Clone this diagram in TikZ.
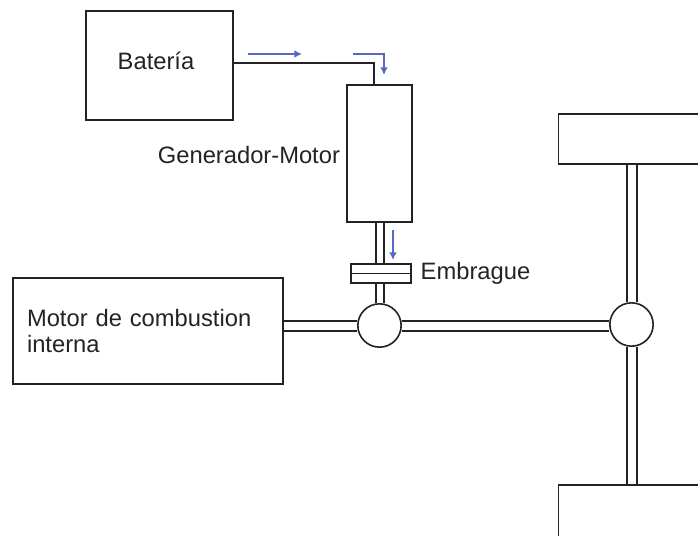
\documentclass[tikz,border=0pt]{standalone}
\usepackage{fontspec}
\setmainfont{Liberation Sans}
\usetikzlibrary{arrows.meta,positioning}
\definecolor{flowcolor}{RGB}{85,105,195}
\definecolor{linecolor}{RGB}{35,35,35}
\tikzset{
  blockbox/.style={draw=linecolor,fill=white,line width=1.2pt,inner sep=0pt},
  hubnode/.style={circle,draw=linecolor,fill=white,line width=1.2pt,minimum size=32.5pt,inner sep=0pt},
  shaftline/.style={draw=linecolor,line width=1.5pt,double=white,double distance=6pt},
  thinshaft/.style={draw=linecolor,line width=1.5pt,double=white,double distance=4.5pt},
  wireline/.style={draw=linecolor,line width=1.2pt},
  flowarrow/.style={-{Latex[length=2mm,width=2mm]},line width=0.9pt,draw=flowcolor},
  textlabel/.style={font=\fontsize{17.8pt}{20pt}\selectfont,text=linecolor,inner sep=0pt},
}

\begin{document}
\begin{tikzpicture}[x=0.75pt,y=-0.75pt]
        \clip (0,0) rectangle (698,535);
        \node[blockbox,minimum width=110.25pt,minimum height=81.75pt] (bateria) at (159.5,65.5) {};
        \node[textlabel] (lblbateria) at (156,61) {Batería};
        \node[blockbox,minimum width=48.75pt,minimum height=102.75pt] (generador) at (379.5,153.5) {};
        \node[textlabel,left=4.5pt of generador,yshift=-1pt] (lblgenerador) {Generador-Motor};
        \node[blockbox,minimum width=45pt,minimum height=14.25pt] (embrague) at (381,273.5) {};
        \node[textlabel,right=6.5pt of embrague] (lblembrague) {Embrague};
        \node[blockbox,textlabel,align=left,minimum width=202.5pt,minimum height=79.5pt,
          text width=181.5pt,inner xsep=10.5pt] (motor) at (148,331) {Motor de combustion\\interna};
        \node[blockbox,minimum width=109.5pt,minimum height=37.5pt] (ruedasup) at (631.5,139) {};
        \node[blockbox,minimum width=109.5pt,minimum height=42pt] (ruedainf) at (631.5,513) {};
        \node[hubnode] (hubmotor) at (379.5,325.5) {};
        \node[hubnode] (hubeje) at (631.5,324.5) {};
        \coordinate (codo) at (374,63);
        % ejes
        \draw[thinshaft] (generador.south) -- (embrague.north -| generador.south);
        \draw[thinshaft] (embrague.south -| hubmotor.north) -- (hubmotor.north);
        \draw[shaftline] (motor.east |- hubmotor.west) -- (hubmotor.west);
        \draw[shaftline] (hubmotor.east) -- (hubeje.west |- hubmotor.east);
        \draw[shaftline] (ruedasup.south) -- (hubeje.north);
        \draw[shaftline] (hubeje.south) -- (ruedainf.north);
        \draw[wireline] (embrague.west) -- (embrague.east);
        \draw[wireline] (bateria.east |- codo) -- (codo) -- (codo |- generador.north);
        % flechas de energia
        \coordinate (flujoa) at (248,54);
        \coordinate (flujob) at (302,54);
        \coordinate (flujoc) at (353,54);
        \coordinate (flujod) at (384,54);
        \coordinate (flujoe) at (384,75);
        \coordinate (flujof) at (393,230);
        \coordinate (flujog) at (393,260);
        \draw[flowarrow] (flujoa) -- (flujob);
        \draw[flowarrow] (flujoc) -- (flujod) -- (flujoe);
        \draw[flowarrow] (flujof) -- (flujog);
      \end{tikzpicture}
\end{document}
